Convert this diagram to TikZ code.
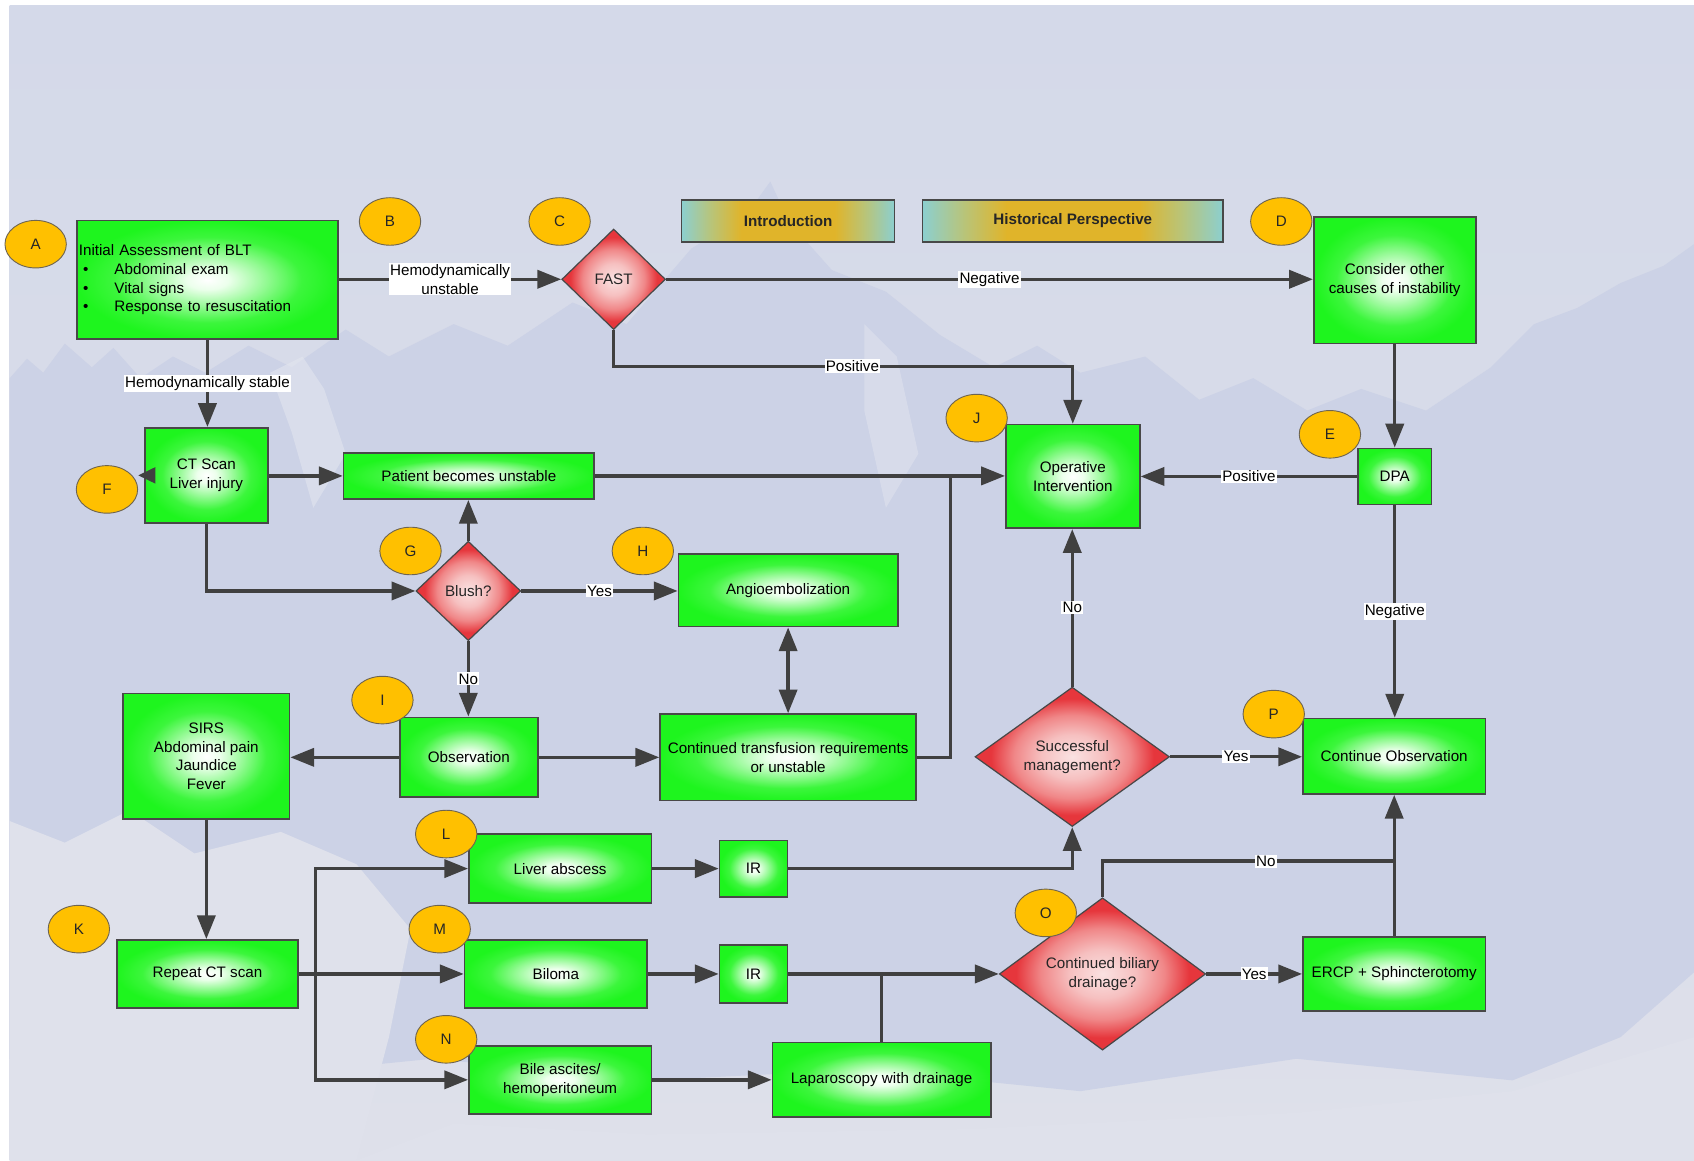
\documentclass[tikz,border=0pt]{standalone}
\usepackage{fontspec}
\setmainfont{Liberation Sans}
\usetikzlibrary{shapes.geometric, arrows.meta}

\definecolor{linec}{RGB}{64,64,64}
\definecolor{edgec}{RGB}{72,72,72}
\definecolor{boxgreen}{RGB}{30,245,30}
\definecolor{greenA}{RGB}{236,255,236}
\definecolor{greenB}{RGB}{150,250,150}
\definecolor{greenC}{RGB}{60,246,60}
\definecolor{orangec}{RGB}{255,192,0}
\definecolor{ringc}{RGB}{110,100,80}
\definecolor{redc}{RGB}{230,54,60}
\definecolor{redB}{RGB}{240,135,136}
\definecolor{redA}{RGB}{246,192,192}
\definecolor{pinkc}{RGB}{250,226,226}
\definecolor{tealc}{RGB}{140,207,207}
\definecolor{tealgold}{RGB}{185,196,120}
\definecolor{goldc}{RGB}{224,180,42}
\definecolor{bgtop}{RGB}{212,217,233}
\definecolor{bgbot}{RGB}{222,224,234}
\definecolor{mtn}{RGB}{204,210,230}
\definecolor{mtnlight}{RGB}{223,225,235}
\definecolor{snow}{RGB}{226,229,239}

% soft glow for the process boxes
\pgfdeclareradialshading{greenglow}{\pgfpoint{0bp}{0bp}}{color(0bp)=(white); color(4bp)=(greenA); color(11bp)=(greenB); color(18bp)=(greenC); color(25bp)=(boxgreen); color(50bp)=(boxgreen)}
% glow for the decision diamonds
\pgfdeclareradialshading{redglow}{\pgfpoint{0bp}{0bp}}{color(0bp)=(pinkc); color(8bp)=(redA); color(15bp)=(redB); color(21bp)=(redc); color(50bp)=(redc)}
% teal-gold band for the header buttons
\pgfdeclarehorizontalshading{hdrshade}{100bp}{color(0bp)=(tealc); color(25bp)=(tealc); color(32bp)=(tealgold); color(39bp)=(goldc); color(61bp)=(goldc); color(68bp)=(tealgold); color(75bp)=(tealc); color(100bp)=(tealc)}

\begin{document}
\begin{tikzpicture}[x=0.025cm, y=-0.025cm,
  font=\fontsize{10}{12.3}\selectfont,
  sz/.style 2 args={minimum width=#1*0.025cm, minimum height=#2*0.025cm},
  gbox/.style={rectangle, draw=edgec, line width=1.1pt, shade, shading=greenglow,
    align=center, inner sep=1pt, text=black},
  dec/.style={diamond, draw=edgec, line width=0.8pt, shade, shading=redglow,
    align=center, inner sep=0pt, text=black!85},
  hdr/.style={rectangle, draw=edgec, line width=1pt, shade, shading=hdrshade,
    font=\fontsize{10}{12.3}\selectfont\bfseries, text=black!85},
  ltr/.style={ellipse, draw=ringc, line width=0.6pt, fill=orangec,
    minimum width=1.42cm, minimum height=1.1cm, inner sep=0pt, text=black!85},
  conn/.style={draw=linec, line width=2.2pt, -{Triangle[length=0.55cm, width=0.42cm]}},
  dconn/.style={draw=linec, line width=2.2pt,
    {Triangle[length=0.55cm, width=0.42cm]}-{Triangle[length=0.55cm, width=0.42cm]}},
  tinyconn/.style={draw=linec, line width=2.2pt, -{Triangle[length=0.4cm, width=0.36cm]}},
  plain/.style={draw=linec, line width=2.2pt},
  lbl/.style={fill=white, inner sep=0.8pt, text=black, align=center}
]
\useasboundingbox (0,0) rectangle (1568,1074);

% ---- backdrop: pale sky with a faint mountain range ----
\fill[white] (0,0) rectangle (1568,1074);
\shade[top color=bgtop, bottom color=bgbot] (9,5) rectangle (1568,1074);
\fill[mtn] (9,350) -- (25,332) -- (40,345) -- (60,318) -- (85,340) -- (105,322)
  -- (130,350) -- (160,330) -- (190,345) -- (230,320) -- (270,340) -- (320,305)
  -- (360,330) -- (420,300) -- (470,320) -- (530,280) -- (580,300) -- (640,230)
  -- (690,200) -- (713,168) -- (730,205) -- (770,250) -- (820,270) -- (870,310)
  -- (920,340) -- (960,320) -- (1000,345) -- (1060,330) -- (1110,370) -- (1160,350)
  -- (1210,380) -- (1260,360) -- (1320,380) -- (1380,340) -- (1420,300) -- (1460,285)
  -- (1500,262) -- (1540,246) -- (1568,226) -- (1568,900) -- (1500,960) -- (1400,1000)
  -- (1200,980) -- (1000,1010) -- (800,990) -- (600,1000) -- (400,980) -- (200,1000)
  -- (9,980) -- cycle;
\fill[snow, opacity=0.6] (250,345) -- (280,330) -- (300,360) -- (320,420) -- (290,470)
  -- (270,400) -- cycle;
\fill[snow, opacity=0.5] (800,300) -- (830,330) -- (850,420) -- (820,470) -- (800,380) -- cycle;
\fill[mtnlight] (9,760) -- (60,780) -- (120,750) -- (180,790) -- (260,770) -- (330,800)
  -- (380,860) -- (360,960) -- (330,1074) -- (9,1074) -- cycle;
\fill[mtnlight] (330,1074) -- (420,1040) -- (600,1050) -- (900,1045) -- (1200,1030)
  -- (1400,1010) -- (1568,960) -- (1568,1074) -- cycle;

% ---- header buttons ----
\node[hdr, sz={197}{39}] (hIntro) at (729.5,204.5) {Introduction};
\node[hdr, sz={278}{39}] (hHist) at (993,204.5) {Historical Perspective};

% ---- process boxes ----
\node[gbox, sz={242}{110}, text width=5.95cm, align=left, inner sep=0.05cm] (bA) at (192,259)
  {Initial Assessment of BLT\\
   \hspace*{0.1cm}\makebox[0.725cm][l]{\textbullet}Abdominal exam\\
   \hspace*{0.1cm}\makebox[0.725cm][l]{\textbullet}Vital signs\\
   \hspace*{0.1cm}\makebox[0.725cm][l]{\textbullet}Response to resuscitation};
\node[gbox, sz={114}{88}]  (bCT)   at (191,440)    {CT Scan\\Liver injury};
\node[gbox, sz={232}{43}]  (bPU)   at (434,440.5)  {Patient becomes unstable};
\node[gbox, sz={203}{67}]  (bAng)  at (729.5,546.5) {Angioembolization};
\node[gbox, sz={128}{74}]  (bObs)  at (434,701)    {Observation};
\node[gbox, sz={154}{116}] (bSIRS) at (191,700)    {SIRS\\Abdominal pain\\Jaundice\\Fever};
\node[gbox, sz={237}{80}]  (bCTR)  at (729.5,701)  {Continued transfusion requirements\\or unstable};
\node[gbox, sz={124}{96}]  (bOp)   at (993,441)    {Operative\\Intervention};
\node[gbox, sz={150}{117}] (bCons) at (1291,259.5) {Consider other\\causes of instability};
\node[gbox, sz={68}{52}]   (bDPA)  at (1291,441)   {DPA};
\node[gbox, sz={169}{70}]  (bCObs) at (1290.5,700) {Continue Observation};
\node[gbox, sz={169}{69}]  (bERCP) at (1290.5,901.5) {ERCP + Sphincterotomy};
\node[gbox, sz={168}{63}]  (bRCT)  at (192,901.5)  {Repeat CT scan};
\node[gbox, sz={169}{64}]  (bLA)   at (518.5,804)  {Liver abscess};
\node[gbox, sz={63}{52}]   (bIR1)  at (697.5,804)  {IR};
\node[gbox, sz={169}{63}]  (bBil)  at (514.5,901.5) {Biloma};
\node[gbox, sz={63}{54}]   (bIR2)  at (697.5,901.5) {IR};
\node[gbox, sz={169}{63}]  (bBA)   at (518.5,999.5) {Bile ascites/\\hemoperitoneum};
\node[gbox, sz={202}{69}]  (bLap)  at (816,999.5)  {Laparoscopy with drainage};

% ---- decisions ----
\node[dec, sz={96}{93}]   (dFAST)  at (568,258.5)  {FAST};
\node[dec, sz={97}{92}]   (dBlush) at (433.5,547)  {Blush?};
\node[dec, sz={180}{129}] (dSucc)  at (992.5,700.5) {Successful\\management?};
\node[dec, sz={191}{141}] (dCBD)   at (1020.5,901.5) {Continued biliary\\drainage?};

% ---- step letters ----
\node[ltr] (cA) at (33,226)   {A};
\node[ltr] (cB) at (361,205)  {B};
\node[ltr] (cC) at (518,205)  {C};
\node[ltr] (cD) at (1186,205) {D};
\node[ltr] (cE) at (1231,402) {E};
\node[ltr] (cF) at (99,453)   {F};
\node[ltr] (cG) at (380,510)  {G};
\node[ltr] (cH) at (595,510)  {H};
\node[ltr] (cI) at (354,648)  {I};
\node[ltr] (cJ) at (904,387)  {J};
\node[ltr] (cK) at (73,860)   {K};
\node[ltr] (cL) at (413,772)  {L};
\node[ltr] (cM) at (407,860)  {M};
\node[ltr] (cN) at (413,962)  {N};
\node[ltr] (cO) at (968,845)  {O};
\node[ltr] (cP) at (1179,661) {P};

% ---- junction points ----
\coordinate (posrow) at (0,339);
\coordinate (merge1) at (880,440.5);
\coordinate (split)  at (292,901.5);
\coordinate (merge2) at (1290.5,797);

% ---- connectors ----
\draw[conn] (bA.east |- dFAST.west) -- (dFAST.west)
  node[lbl, midway] {Hemodynamically\\unstable};
\draw[conn] (bA.south) -- (bA.south |- bCT.north)
  node[lbl, midway] {Hemodynamically stable};
\draw[conn] (dFAST.east) -- (dFAST.east -| bCons.west) node[lbl, midway] {Negative};
\draw[conn] (dFAST.south) -- (dFAST.south |- posrow) -| (bOp.north)
  node[lbl, pos=0.26] {Positive};
\draw[conn] (bCons.south) -- (bCons.south |- bDPA.north);
\draw[conn] (bDPA.west) -- (bDPA.west -| bOp.east) node[lbl, midway] {Positive};
\draw[conn] (bDPA.south) -- (bDPA.south |- bCObs.north) node[lbl, midway] {Negative};

\draw[conn] (bCT.east |- bPU.west) -- (bPU.west);
\draw[tinyconn] ([xshift=0.225cm]bCT.west) -- (bCT.west -| cF.east);
\draw[conn] (bPU.east) -- (bPU.east -| bOp.west);
\draw[conn] (bCT.south) |- (dBlush.west);
\draw[conn] (dBlush.north) -- (dBlush.north |- bPU.south);
\draw[conn] (dBlush.east) -- (dBlush.east -| bAng.west) node[lbl, midway] {Yes};
\draw[conn] (dBlush.south) -- (dBlush.south |- bObs.north) node[lbl, midway] {No};
\draw[conn] (bObs.west) -- (bObs.west -| bSIRS.east);
\draw[conn] (bObs.east) -- (bObs.east -| bCTR.west);
\draw[dconn] (bAng.south) -- (bAng.south |- bCTR.north);
\draw[plain] (bCTR.east) -| (merge1);

\draw[conn] (dSucc.north) -- (dSucc.north |- bOp.south) node[lbl, midway] {No};
\draw[conn] (dSucc.east) -- (dSucc.east -| bCObs.west) node[lbl, midway] {Yes};

\draw[conn] (bSIRS.south) -- (bSIRS.south |- bRCT.north);
\draw[conn] (bRCT.east) -- (bRCT.east -| bBil.west);
\draw[conn] (split) |- (bLA.west);
\draw[conn] (split) |- (bBA.west);
\draw[conn] (bLA.east) -- (bLA.east -| bIR1.west);
\draw[conn] (bIR1.east) -| (dSucc.south);
\draw[conn] (bBil.east) -- (bBil.east -| bIR2.west);
\draw[conn] (bIR2.east) -- (bIR2.east -| dCBD.west);
\draw[plain] (bLap.north) -- (bLap.north |- bIR2.east);
\draw[conn] (bBA.east) -- (bBA.east -| bLap.west);
\draw[conn] (dCBD.east) -- (dCBD.east -| bERCP.west) node[lbl, midway] {Yes};
\draw[plain] (dCBD.north) |- (merge2) node[lbl, pos=0.78] {No};
\draw[conn] (bERCP.north) -- (bERCP.north |- bCObs.south);
\end{tikzpicture}
\end{document}
